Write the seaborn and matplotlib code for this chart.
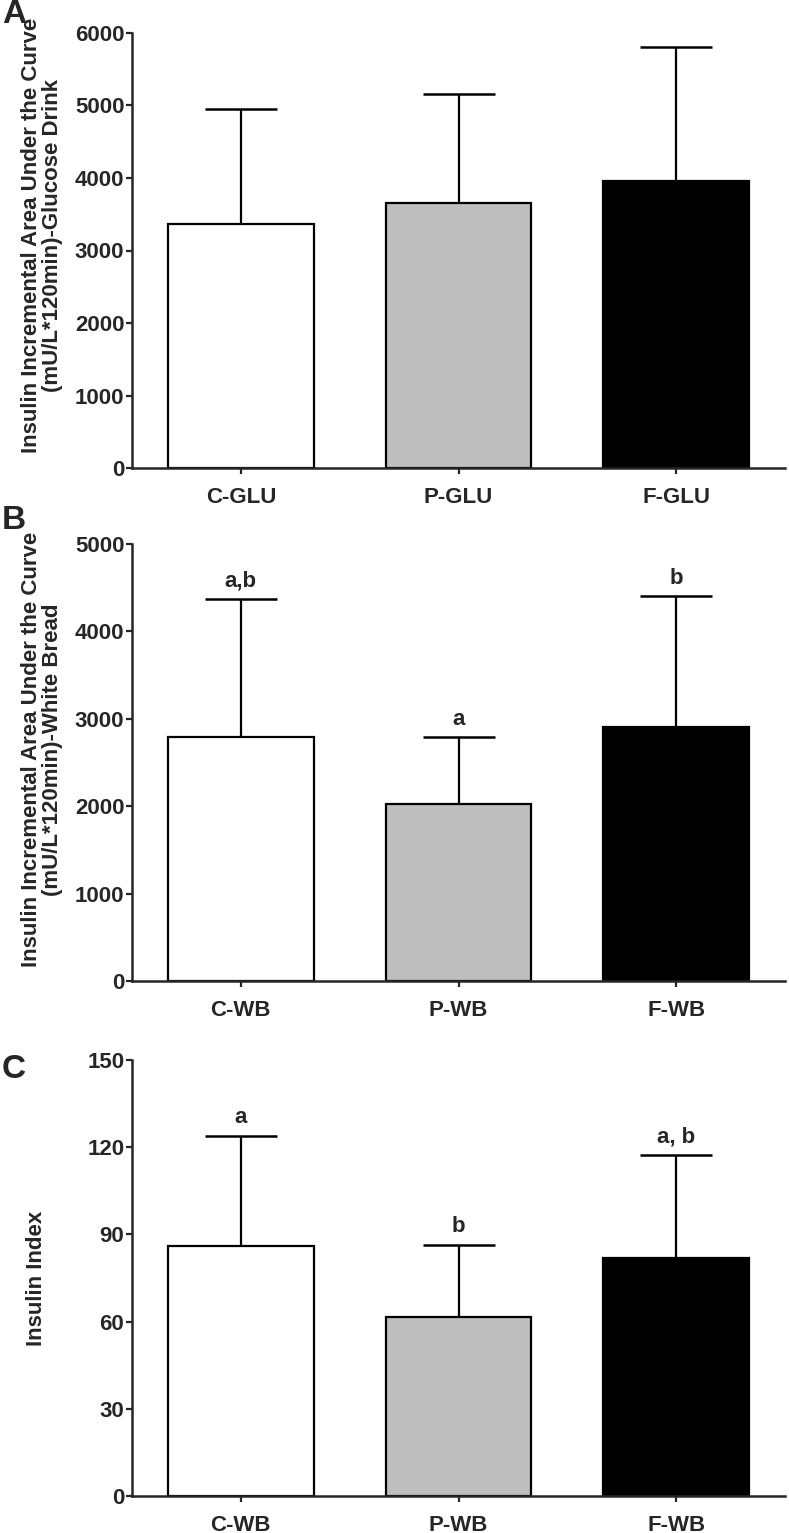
import matplotlib
matplotlib.use("Agg")
import matplotlib.pyplot as plt
import seaborn as sns
import pandas as pd
import numpy as np

sns.set_style("ticks")
plt.rcParams['font.family'] = ['Liberation Sans', 'DejaVu Sans']
plt.rcParams['font.weight'] = 'bold'

# ---- data ----
cats_a = ["C-GLU", "P-GLU", "F-GLU"]
mean_a = [3370, 3660, 3960]
sd_a = [1580, 1500, 1840]

cats_b = ["C-WB", "P-WB", "F-WB"]
mean_b = [2790, 2020, 2910]
sd_b = [1580, 770, 1490]
letters_b = ["a,b", "a", "b"]

cats_c = ["C-WB", "P-WB", "F-WB"]
mean_c = [85.9, 61.5, 81.8]
sd_c = [38.0, 24.9, 35.6]
letters_c = ["a", "b", "a, b"]

ylabel_a = "Insulin Incremental Area Under the Curve\n(mU/L*120min)-Glucose Drink"
ylabel_b = "Insulin Incremental Area Under the Curve\n(mU/L*120min)-White Bread"
ylabel_c = "Insulin Index"
yticks_a = [0, 1000, 2000, 3000, 4000, 5000, 6000]
yticks_b = [0, 1000, 2000, 3000, 4000, 5000]
yticks_c = [0, 30, 60, 90, 120, 150]
colors = ["#ffffff", "#bebebe", "#000000"]

W, H = 789, 1533
fig = plt.figure(figsize=(W / 100, H / 100), dpi=100)

def px_axes(left, right, top, bottom):
    return fig.add_axes([left / W, 1 - bottom / H, (right - left) / W, (bottom - top) / H])

def panel(ax, cats, means, sds, yticks, ylabel, letters, label_x, label_y, panel_letter, letter_y):
    df = pd.DataFrame({"cat": cats, "val": means})
    sns.barplot(data=df, x="cat", y="val", hue="cat", palette=colors, width=0.67,
                edgecolor="black", linewidth=1.6, errorbar=None, legend=False, ax=ax)
    eb = ax.errorbar(range(len(cats)), means, yerr=[np.zeros(len(sds)), sds], fmt="none",
                     ecolor="black", elinewidth=1.6, capsize=26, capthick=1.8, zorder=1)
    # hide the lower caps (only upper error is shown)
    for cl in eb[1]:
        if np.allclose(np.asarray(cl.get_ydata(), dtype=float), np.asarray(means, dtype=float)):
            cl.set_visible(False)
    ax.set_xlim(-0.5, 2.5)
    ax.set_ylim(yticks[0], yticks[-1])
    ax.set_yticks(yticks)
    ax.set_xlabel("")
    ax.set_ylabel(ylabel, fontsize=16, fontweight="bold", linespacing=1.0)
    ax.yaxis.set_label_coords(label_x, label_y)
    for s in ["top", "right"]:
        ax.spines[s].set_visible(False)
    for s in ["left", "bottom"]:
        ax.spines[s].set_linewidth(1.8)
    ax.tick_params(axis="both", width=1.6, length=4.5, labelsize=16, pad=1)
    ax.tick_params(axis="x", pad=9)
    for lab in ax.get_xticklabels() + ax.get_yticklabels():
        lab.set_fontweight("bold")
    if letters is not None:
        for i, (m, s, t) in enumerate(zip(means, sds, letters)):
            ax.annotate(t, (i, m + s), xytext=(0, 9), textcoords="offset points",
                        ha="center", va="baseline", fontsize=16, fontweight="bold")
    fig.text(2 / W, 1 - letter_y / H, panel_letter, fontsize=24, fontweight="bold",
             ha="left", va="baseline")

ax_a = px_axes(132, 785, 32.7, 468.3)
panel(ax_a, cats_a, mean_a, sd_a, yticks_a, ylabel_a, None, -0.106, 0.535, "A", 23)
ax_b = px_axes(132, 785, 544, 981)
panel(ax_b, cats_b, mean_b, sd_b, yticks_b, ylabel_b, letters_b, -0.106, 0.53, "B", 529)
ax_c = px_axes(132, 785, 1060, 1496)
panel(ax_c, cats_c, mean_c, sd_c, yticks_c, ylabel_c, letters_c, -0.13, 0.5, "C", 1078)

fig.savefig("out.png", dpi=100)
